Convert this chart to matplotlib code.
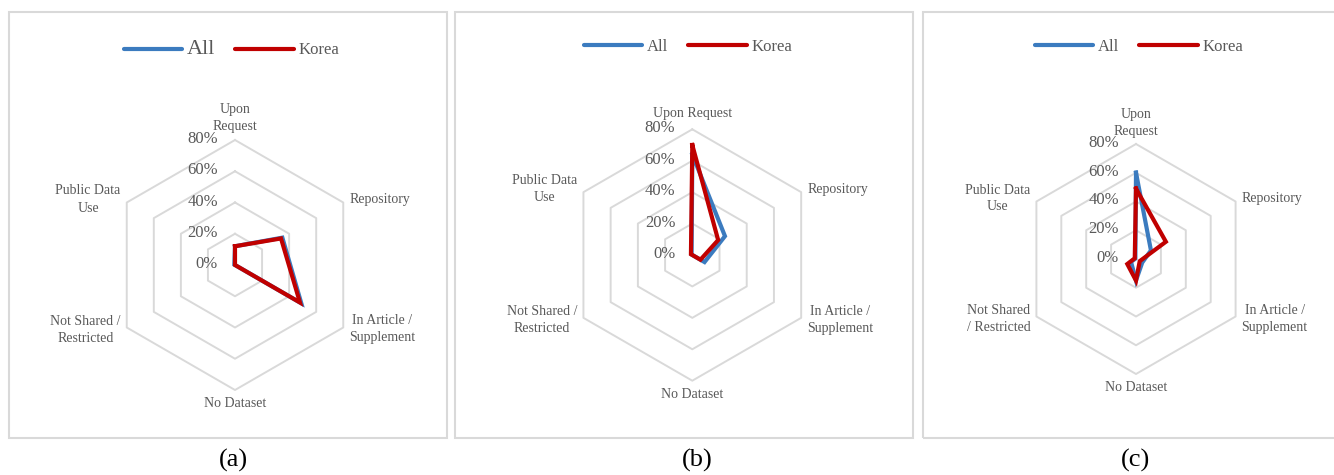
import numpy as np
import matplotlib
matplotlib.use("Agg")
import matplotlib.pyplot as plt
from matplotlib.lines import Line2D
from matplotlib.patches import Rectangle

# ---- data (percent of articles per data-sharing category) ----
labels_a = ["Upon\nRequest", "Repository", "In Article /\nSupplement",
            "No Dataset", "Not Shared /\nRestricted", "Public Data\nUse"]
labels_b = ["Upon Request", "Repository", "In Article /\nSupplement",
            "No Dataset", "Not Shared /\nRestricted", "Public Data\nUse"]
labels_c = ["Upon\nRequest", "Repository", "In Article /\nSupplement",
            "No Dataset", "Not Shared\n/ Restricted", "Public Data\nUse"]

all_a = [12, 35, 49, 0, 0, 0.5]
korea_a = [12, 34, 48, 0, 0, 0]
all_b = [64, 24, 9, 0, 0, 0.5]
korea_b = [70, 19, 6, 0, 0, 1]
all_c = [60, 12, 5, 15, 4, 0.5]
korea_c = [49, 24, 3, 15, 7, 1]

ring_values = [0, 20, 40, 60, 80]
ring_labels = ["0%", "20%", "40%", "60%", "80%"]
series_names = ["All", "Korea"]
panel_tags = ["(a)", "(b)", "(c)"]

# ---- style ----
W, H = 1334, 475
BLUE = "#3B7BBF"
RED = "#C00000"
GRID = "#D9D9D9"
TXT = "#595959"
SERIF = "Liberation Serif"

fig = plt.figure(figsize=(W / 100, H / 100), dpi=100)


def fx(x):
    return x / W


def fy(y):
    return 1 - y / H


# panel frames (left, right, top, bottom in pixels)
frames = [(9, 447, 12, 438), (455, 913, 12, 438), (923, 1345, 12, 438)]
for (l, r, t, b) in frames:
    fig.patches.append(Rectangle((fx(l), fy(b)), fx(r - l), (b - t) / H,
                                 transform=fig.transFigure, fill=False,
                                 edgecolor=GRID, lw=1.5, zorder=0))

# radar centres and 80% radius in pixels
geoms = [(235, 265, 125), (692.3, 255, 125.7), (1136, 259, 115)]
legend_pos = [(231.5, 50), (688, 47), (1139, 47)]
caption_x = [233, 697, 1135]
top_label_gap = [7, 9, 6]
panels = [(labels_a, all_a, korea_a), (labels_b, all_b, korea_b),
          (labels_c, all_c, korea_c)]

n = 6
theta = np.deg2rad(np.arange(n) * 60.0)
theta_closed = np.append(theta, theta[0])

for i, ((cx, cy, R), (cats, s_all, s_kor)) in enumerate(zip(geoms, panels)):
    ax = fig.add_axes([fx(cx - R), fy(cy + R), 2 * R / W, 2 * R / H],
                      projection="polar")
    ax.set_theta_zero_location("N")
    ax.set_theta_direction(-1)
    ax.set_ylim(0, 80)
    ax.grid(False)
    ax.set_xticks([])
    ax.set_yticks([])
    ax.spines["polar"].set_visible(False)
    ax.patch.set_alpha(0)

    # hexagonal gridlines
    for rv in ring_values[1:]:
        ax.plot(theta_closed, [rv] * (n + 1), color=GRID, lw=1.4,
                zorder=1, clip_on=False)

    # ring labels along the top spoke
    for rv, rl in zip(ring_values, ring_labels):
        ax.annotate(rl, xy=(0, rv), xytext=(-17, 1), textcoords="offset pixels",
                    ha="right", va="center", fontsize=12, color=TXT,
                    family=SERIF, annotation_clip=False)

    # category labels around the outer ring
    label_place = [
        dict(ha="center", va="bottom", off=(0, top_label_gap[i])),
        dict(ha="left", va="center", off=(6, 3)),
        dict(ha="left", va="center", off=(6, -2)),
        dict(ha="center", va="top", off=(0, -7)),
        dict(ha="right", va="center", off=(-6, -2)),
        dict(ha="right", va="center", off=(-6, 3)),
    ]
    for t, name, pl in zip(theta, cats, label_place):
        ax.annotate(name, xy=(t, 80), xytext=pl["off"],
                    textcoords="offset pixels", ha=pl["ha"], va=pl["va"],
                    multialignment="center", linespacing=1.4, fontsize=10,
                    color=TXT, family=SERIF, annotation_clip=False)

    # series
    ax.plot(theta_closed, list(s_all) + [s_all[0]], color=BLUE, lw=3,
            solid_joinstyle="miter", zorder=3, clip_on=False)
    ax.plot(theta_closed, list(s_kor) + [s_kor[0]], color=RED, lw=3,
            solid_joinstyle="miter", zorder=4, clip_on=False)

    # legend
    handles = [Line2D([], [], color=BLUE, lw=3, solid_capstyle="round"),
               Line2D([], [], color=RED, lw=3, solid_capstyle="round")]
    lx, ly = legend_pos[i]
    leg = fig.legend(handles, series_names, loc="center",
                     bbox_to_anchor=(fx(lx), fy(ly)), ncol=2, frameon=False,
                     prop={"family": SERIF, "size": 12}, handlelength=3.5,
                     handletextpad=0.3, columnspacing=1.2, labelcolor=TXT,
                     borderaxespad=0, borderpad=0)
    if i == 0:
        leg.get_texts()[0].set_fontsize(16)

    # caption
    fig.text(fx(caption_x[i]), fy(460), panel_tags[i], ha="center",
             va="center", fontsize=19, family=SERIF, color="black")

fig.savefig("out.png", dpi=100)
